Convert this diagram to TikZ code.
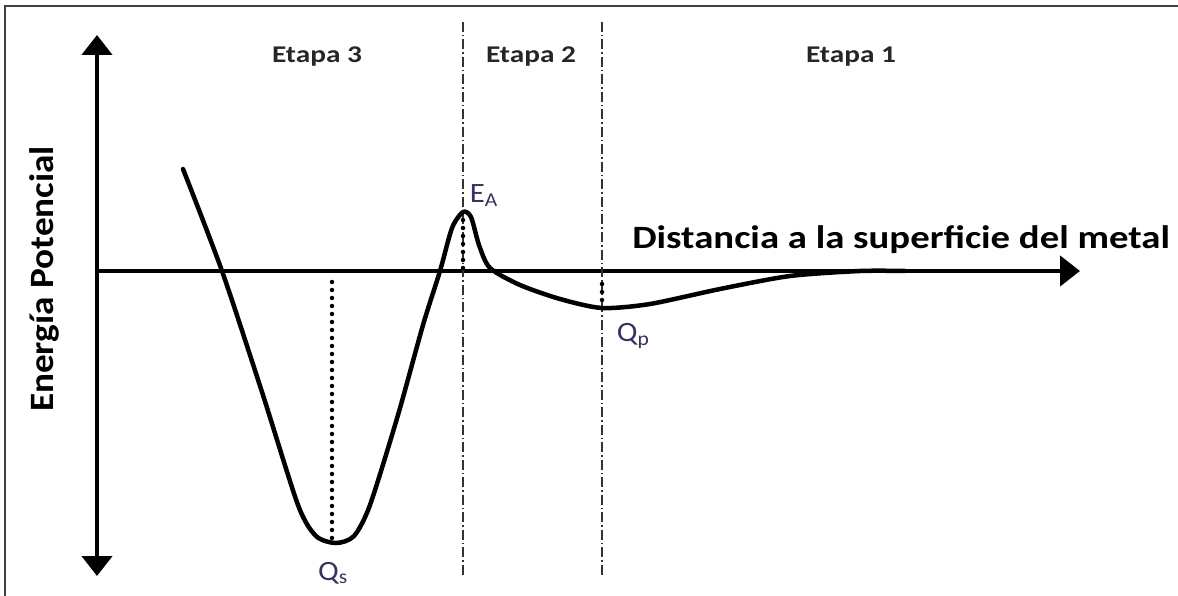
\documentclass[tikz,border=0pt]{standalone}
\usepackage{fontspec}
\setmainfont{Carlito}
\usetikzlibrary{arrows.meta}
\begin{document}
\begin{tikzpicture}[x=1pt,y=-1pt,
  axis/.style={line width=4.5pt,-{Triangle[width=30pt,length=20pt]}},
  curve/.style={line width=4.5pt,line cap=round,line join=round},
  stage/.style={draw=black!80,line width=1.5pt,dash pattern=on 10pt off 3pt on 1.5pt off 3pt},
  dots/.style={line width=4.5pt,line cap=round,dash pattern=on 0pt off 8pt},
  etapa/.style={font=\fontsize{24}{24}\selectfont\bfseries,text=black!85,xscale=1.22},
  qlab/.style={font=\fontsize{28}{28}\selectfont,text=black!65!blue!60!gray,xscale=1.1},
  big/.style={font=\fontsize{31}{31}\selectfont\bfseries,inner sep=0pt}]
\useasboundingbox (0,0) rectangle (1178,596);
\draw[line width=2pt,black!75] (5,596) -- (5,6) -- (1178,6);
% axes
\coordinate (o) at (97,271);
\coordinate (ytop) at (97,35);
\coordinate (ybot) at (97,576);
\coordinate (xend) at (1080,271);
\draw[axis] (o) -- (ytop);
\draw[axis] (o) -- (ybot);
\draw[axis] (o) -- (xend);
% stage lines
\coordinate (s2t) at (463,22); \coordinate (s2b) at (463,576);
\coordinate (s1t) at (602,22); \coordinate (s1b) at (602,576);
\draw[stage] (s2t) -- (s2b);
\draw[stage] (s1t) -- (s1b);
% curve
\draw[curve] plot[smooth,tension=0.45] coordinates {(183,169) (222,271) (262,392) (298,505) (316,536) (336,543) (354,536) (370,505) (398,415) (423,325) (440,271) (452,228) (463,212) (471,217) (479,245) (490,268) (520,285) (560,299) (602,308) (650,304) (720,289) (790,276) (860,271) (905,271)};
% dotted lines
\coordinate (qs1) at (332,282); \coordinate (qs2) at (332,538);
\coordinate (ea1) at (463,220); \coordinate (ea2) at (463,268);
\coordinate (qp1) at (602,284); \coordinate (qp2) at (602,302);
\draw[dots] (qs1) -- (qs2);
\draw[dots] (ea1) -- (ea2);
\draw[dots] (qp1) -- (qp2);
% labels
\node[etapa] (e3) at (317,57) {Etapa 3};
\node[etapa] (e2) at (531,57) {Etapa 2};
\node[etapa] (e1) at (851,57) {Etapa 1};
\node[big,anchor=south west,xscale=1.25,yscale=1.05] (xl) at (632,254) {Distancia a la superficie del metal};
\node[big,rotate=90,xscale=1.2,yscale=1.1] (yl) at (44,279) {Energía Potencial};
\node[qlab,anchor=west] (ea) at (466,196) {E\textsubscript{A}};
\node[qlab,anchor=west] (qp) at (613,336) {Q\textsubscript{p}};
\node[qlab] (qs) at (333,573) {Q\textsubscript{s}};
\end{tikzpicture}
\end{document}
